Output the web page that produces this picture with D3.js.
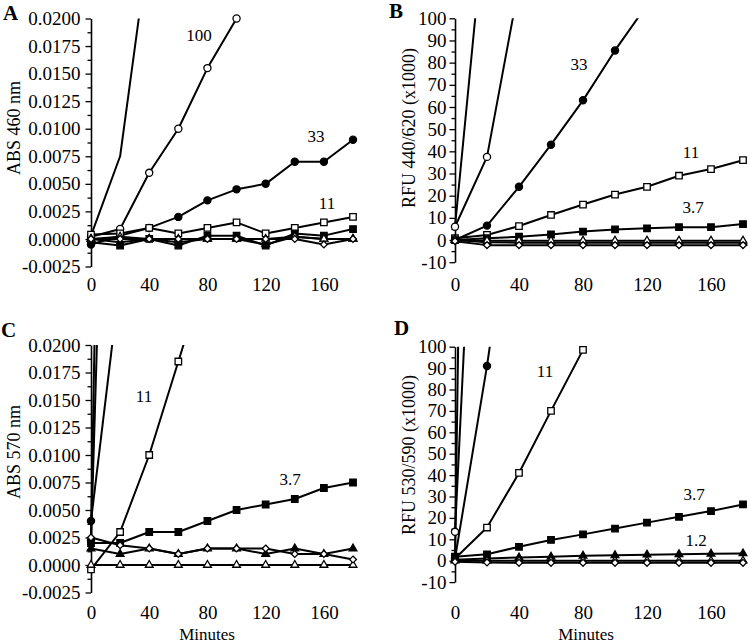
<!DOCTYPE html>
<html><head><meta charset="utf-8">
<script src="https://cdn.jsdelivr.net/npm/d3@7"></script>
<style>
body{margin:0;background:#fff}
svg text{font-family:"Liberation Serif","Times New Roman",serif;fill:#000}
</style>
</head><body>
<svg id="chart" width="750" height="642"></svg>
<script>
// ---------- data ----------
const minutes = [0, 20, 40, 60, 80, 100, 120, 140, 160, 180];
const xTickValues = [0, 40, 80, 120, 160];
const absTicks = [-0.0025, 0, 0.0025, 0.005, 0.0075, 0.01, 0.0125, 0.015, 0.0175, 0.02];
const rfuTicks = [-10, 0, 10, 20, 30, 40, 50, 60, 70, 80, 90, 100];

// Panel A: ABS 460 nm
const A_top  = [0.0003, 0.0075, 0.027];
const A_c100 = [0.0002, 0.0009, 0.006, 0.010, 0.0155, 0.020];
const A_c33  = [-0.0005, 0.0003, 0.001, 0.002, 0.0035, 0.0045, 0.005, 0.007, 0.007, 0.009];
const A_c11  = [0.0004, 0.0005, 0.001, 0.0005, 0.001, 0.0015, 0.0005, 0.001, 0.0015, 0.002];
const A_c3_7 = [-0.0003, -0.0006, 0, -0.0006, 0.0003, 0.0003, -0.0006, 0.0005, 0.0003, 0.0009];
const A_c1_2 = [0, -0.0003, 0, -0.0003, 0, 0, -0.0005, 0.0002, 0, 0];
const A_low1 = [0, 0.0002, 0, 0, 0, 0, 0, 0.0002, 0, 0];
const A_low2 = [0, 0, 0, 0, 0, 0, 0, 0, -0.0005, 0];

// Panel B: RFU 440/620 (x1000)
const B_top  = [6, 155, 300];
const B_c100 = [6, 37.5, 115];
const B_c33  = [0, 6.5, 24, 43, 63, 85.5, 106];
const B_c11  = [0.8, 2.3, 6.3, 11.3, 16, 20.5, 24, 29, 32, 36];
const B_c3_7 = [0, 0.8, 1.5, 2.5, 3.8, 4.8, 5.3, 5.8, 5.8, 7.2];
const B_c1_2 = [0, -1, -1.2, -1.2, -1.2, -1.2, -1.2, -1.2, -1.2, -1.2];
const B_low1 = [0, -0.3, -0.3, -0.3, -0.3, -0.3, -0.3, -0.3, -0.3, -0.3];
const B_low2 = [-0.5, -2.3, -2.3, -2.3, -2.3, -2.3, -2.3, -2.3, -2.3, -2.3];

// Panel C: ABS 570 nm
const C_top  = [0.0025, 0.15];
const C_c100 = [0.0022, 0.09];
const C_c33  = [0.004, 0.026];
const C_c11  = [-0.0004, 0.003, 0.010, 0.0185, 0.027];
const C_c3_7 = [0.002, 0.002, 0.003, 0.003, 0.004, 0.005, 0.0055, 0.006, 0.007, 0.0075];
const C_c1_2 = [0.0015, 0.001, 0.0015, 0.001, 0.0015, 0.0015, 0.001, 0.0015, 0.001, 0.0015];
const C_low1 = [0, 0, 0, 0, 0, 0, 0, 0, 0, 0];
const C_low2 = [0.0025, 0.0018, 0.0015, 0.001, 0.0015, 0.0015, 0.0015, 0.001, 0.001, 0.0005];

// Panel D: RFU 530/590 (x1000)
const D_top  = [2, 1000];
const D_c100 = [13.5, 320];
const D_c33  = [1, 91, 195];
const D_c11  = [1, 15.5, 41, 70, 98.5, 127];
const D_c3_7 = [1.9, 3, 6.5, 9.7, 12.3, 15, 17.8, 20.5, 23.2, 26.3];
const D_c1_2 = [0.5, 1, 1.5, 1.8, 2.3, 2.5, 2.8, 3, 3.2, 3.4];
const D_low1 = [0, 0, 0, 0, 0, 0, 0, 0, 0, 0];
const D_low2 = [-0.5, -0.8, -1, -1, -1, -1, -1, -1, -1, -1];

// ---------- drawing ----------
const svg = d3.select("#chart");
const FONT = '"Liberation Serif","Times New Roman",serif';
const markerOrder = ["none", "circleOpen", "circleFilled", "squareOpen", "squareFilled", "triFilled", "triOpen", "diamondOpen"];
const fmtAbs = d => d3.format(".4f")(d).replace("\u2212", "-");
const fmtRfu = d => d3.format("d")(d).replace("\u2212", "-");

function drawMarker(g, type, cx, cy) {
  if (type === "none") return;
  const filled = /Filled/.test(type);
  let sym, size;
  if (type.startsWith("circle")) { sym = d3.symbolCircle; size = 40; }
  else if (type.startsWith("square")) { sym = d3.symbolSquare; size = 42; }
  else if (type.startsWith("tri")) { sym = d3.symbolTriangle; size = 26; }
  else { sym = d3.symbolDiamond2; size = 30; }
  g.append("path")
    .attr("d", d3.symbol(sym, size)())
    .attr("transform", `translate(${cx},${cy})`)
    .attr("fill", filled ? "#000" : "#fff")
    .attr("stroke", "#000")
    .attr("stroke-width", 1.3);
}

function panel(cfg, idx) {
  const x = d3.scaleLinear().domain([0, 180]).range(cfg.xr);
  const y = d3.scaleLinear().domain([cfg.ticks[0], cfg.ticks[cfg.ticks.length - 1]]).range(cfg.yr);
  const g = svg.append("g");

  const cid = "clip" + idx;
  svg.append("clipPath").attr("id", cid).append("rect")
    .attr("x", cfg.xr[0] - 2).attr("y", cfg.yr[1])
    .attr("width", cfg.xr[1] - cfg.xr[0] + 12).attr("height", cfg.yr[0] - cfg.yr[1]);

  const step = cfg.ticks[1] - cfg.ticks[0];
  const minor = cfg.ticks.slice(0, -1).map(t => t + step / 2);
  const ax0 = g.append("g").attr("transform", `translate(${cfg.xr[0]},0)`)
    .call(d3.axisLeft(y).tickValues(minor).tickSize(3.5).tickSizeOuter(0).tickFormat(""));
  ax0.select(".domain").remove();
  ax0.selectAll("line").attr("stroke-width", 1.3);

  const ax = g.append("g").attr("transform", `translate(${cfg.xr[0]},0)`)
    .call(d3.axisLeft(y).tickValues(cfg.ticks).tickSize(5.5).tickSizeOuter(0).tickPadding(cfg.pad).tickFormat(cfg.fmt));
  ax.select(".domain").attr("stroke-width", 1.6);
  ax.selectAll("line").attr("stroke-width", 1.3);
  ax.selectAll("text").attr("font-family", FONT).attr("font-size", cfg.fs);

  const bx = g.append("g").attr("transform", `translate(0,${cfg.xLabelTop})`)
    .call(d3.axisBottom(x).tickValues(xTickValues).tickSize(0).tickPadding(0));
  bx.select(".domain").remove();
  bx.selectAll("text").attr("font-family", FONT).attr("font-size", cfg.fs);

  const line = d3.line().x(d => x(d[0])).y(d => y(d[1]));
  cfg.series.forEach((vals, si) => {
    const pts = vals.map((v, i) => [minutes[i], v]);
    const sg = g.append("g");
    sg.append("path").attr("d", line(pts)).attr("fill", "none")
      .attr("stroke", "#000").attr("stroke-width", 2).attr("stroke-linejoin", "round")
      .attr("clip-path", `url(#${cid})`);
    const ymax = y.domain()[1];
    pts.forEach(p => {
      if (p[1] <= ymax * 1.005) drawMarker(sg, markerOrder[si], x(p[0]), y(p[1]));
    });
  });

  g.append("text").attr("transform", `translate(${cfg.title[1]},${cfg.title[2]}) rotate(-90)`)
    .attr("text-anchor", "middle").attr("font-size", 18).text(cfg.title[0]);

  g.append("text").attr("x", cfg.letter[1]).attr("y", cfg.letter[2])
    .attr("font-size", 21).attr("font-weight", "bold").text(cfg.letter[0]);

  cfg.notes.forEach(n => {
    g.append("text").attr("x", n[1]).attr("y", n[2]).attr("dy", "0.35em")
      .attr("text-anchor", "middle").attr("font-size", 17).text(n[0]);
  });

  if (cfg.xTitle) {
    g.append("text").attr("x", cfg.xTitle[0]).attr("y", cfg.xTitle[1])
      .attr("text-anchor", "middle").attr("font-size", 17).text("Minutes");
  }
}

panel({
  xr: [91, 353], yr: [266.5, 18.5], ticks: absTicks, fmt: fmtAbs, fs: 19, pad: 5,
  series: [A_top, A_c100, A_c33, A_c11, A_c3_7, A_c1_2, A_low1, A_low2],
  title: ["ABS 460 nm", 20, 128], letter: ["A", 3, 20], xLabelTop: 277,
  notes: [["100", 199, 35], ["33", 316, 136], ["11", 327, 203]]
}, 0);

panel({
  xr: [455, 743], yr: [262.2, 18.3], ticks: rfuTicks, fmt: fmtRfu, fs: 19, pad: 3,
  series: [B_top, B_c100, B_c33, B_c11, B_c3_7, B_c1_2, B_low1, B_low2],
  title: ["RFU 440/620 (x1000)", 415, 128], letter: ["B", 389, 18], xLabelTop: 277,
  notes: [["33", 579, 64], ["11", 691, 152], ["3.7", 693, 207]]
}, 1);

panel({
  xr: [91, 353], yr: [592.5, 345], ticks: absTicks, fmt: fmtAbs, fs: 19, pad: 5,
  series: [C_top, C_c100, C_c33, C_c11, C_c3_7, C_c1_2, C_low1, C_low2],
  title: ["ABS 570 nm", 20, 452], letter: ["C", 1, 337], xLabelTop: 605.5,
  notes: [["11", 144, 396], ["3.7", 290, 479]],
  xTitle: [207, 639.5]
}, 2);

panel({
  xr: [455, 743], yr: [582.1, 346.7], ticks: rfuTicks, fmt: fmtRfu, fs: 19, pad: 3,
  series: [D_top, D_c100, D_c33, D_c11, D_c3_7, D_c1_2, D_low1, D_low2],
  title: ["RFU 530/590 (x1000)", 415, 455], letter: ["D", 394, 335], xLabelTop: 605.5,
  notes: [["11", 545, 371], ["3.7", 694, 494], ["1.2", 696, 540]],
  xTitle: [586, 639.5]
}, 3);
</script>
</body></html>
